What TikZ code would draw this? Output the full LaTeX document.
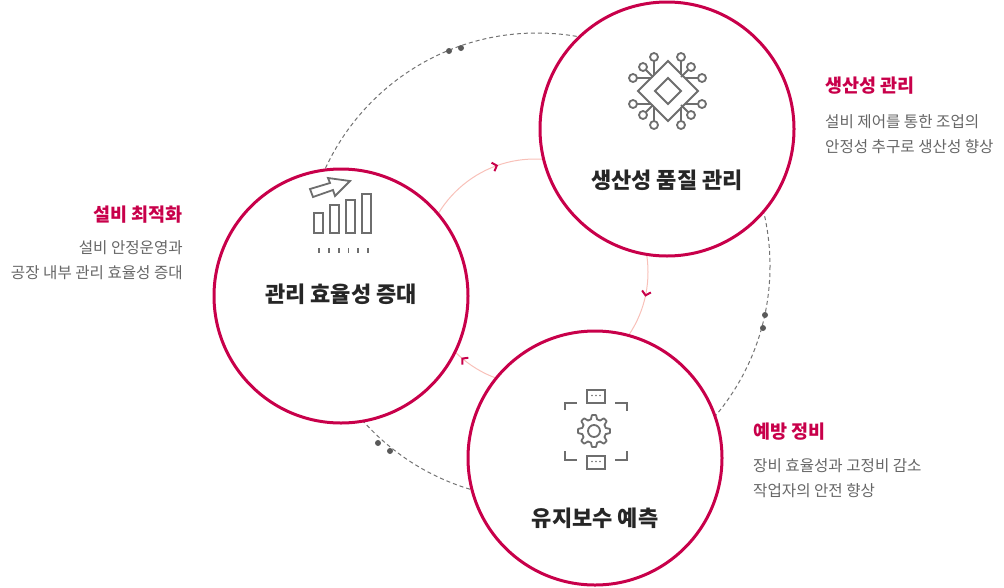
\documentclass[tikz,border=0pt]{standalone}
\usepackage{fontspec}
\setmainfont{Noto Sans CJK KR}
\usetikzlibrary{arrows.meta,decorations.markings}
\definecolor{crim}{HTML}{C8004A}
\definecolor{pinkl}{HTML}{F8C0B8}
\definecolor{icong}{HTML}{6E6E6E}
\definecolor{txtg}{HTML}{666666}
\tikzset{
  bigc/.style={draw=crim,line width=3,fill=white},
  ttl/.style={font=\bfseries\fontsize{22}{26}\selectfont,text=black!85},
  side/.style={font=\bfseries\fontsize{18.5}{22}\selectfont,text=crim},
  desc/.style={font=\fontsize{15.6}{25}\selectfont,text=txtg},
  ic/.style={draw=icong,line width=1.8},
  dot/.style={fill=black!65,circle,inner sep=0,minimum size=6},
  barb/.style={crim,line width=2},
}
\begin{document}
\begin{tikzpicture}[x=1pt,y=-1pt]
\useasboundingbox (0,0) rectangle (1004,587);
% outer dashed circle
\draw[black!55,line width=1,dash pattern=on 4pt off 3pt] (537,266) circle (233);
% inner pink cycle with arrows
\draw[pinkl,line width=1,postaction={decorate},decoration={markings,
  mark=at position 0.035 with {\arrow[barb]{Straight Barb[length=4pt,width=9pt]}},
  mark=at position 0.363 with {\arrow[barb]{Straight Barb[length=4pt,width=9pt]}},
  mark=at position 0.697 with {\arrow[barb]{Straight Barb[length=4pt,width=9pt]}}}]
  (535,272) circle (113);
% circles
\node[bigc,circle,minimum size=254,inner sep=0] (tr) at (667,129) {};
\node[bigc,circle,minimum size=254,inner sep=0] (lf) at (341,296) {};
\node[bigc,circle,minimum size=254,inner sep=0] (bt) at (595,458) {};
% dots
\node[dot] (d1) at (449,51) {}; \node[dot] (d2) at (461,48) {};
\node[dot] (d3) at (765,315) {}; \node[dot] (d4) at (763,328) {};
\node[dot] (d5) at (378,443) {}; \node[dot] (d6) at (390,451) {};
% titles
\node[ttl] (t1) at (667,180) {생산성 품질 관리};
\node[ttl] (t2) at (341,294) {관리 효율성 증대};
\node[ttl] (t3) at (595,518) {유지보수 예측};
% side texts
\node[side,anchor=west,inner sep=0] (s1) at (825,86) {생산성 관리};
\node[desc,anchor=north west,align=left,inner sep=0] (s1d) at (825,114) {설비 제어를 통한 조업의\\안정성 추구로 생산성 향상};
\node[side,anchor=east,inner sep=0] (s2) at (183,215) {설비 최적화};
\node[desc,anchor=north east,align=right,inner sep=0] (s2d) at (183,240) {설비 안정운영과\\공장 내부 관리 효율성 증대};
\node[side,anchor=west,inner sep=0] (s3) at (753,432) {예방 정비};
\node[desc,anchor=north west,align=left,inner sep=0] (s3d) at (753,458) {장비 효율성과 고정비 감소\\작업자의 안전 향상};
% chip icon
\draw[ic] (668,61) -- (698,91) -- (668,121) -- (638,91) -- cycle;
\draw[ic] (668,78) -- (681,91) -- (668,104) -- (655,91) -- cycle;
\foreach \px/\py/\qx/\qy in {654/61/654/75, 681/61/681/75, 654/121/654/107, 681/121/681/107,
  637/78/651/78, 699/78/685/78, 637/104/651/104, 699/104/685/104,
  646/70/653/77, 688/70/681/77, 646/112/653/105, 688/112/681/105}
  \draw[ic] (\px,\py) -- (\qx,\qy);
\foreach \px/\py in {654/57,681/57,654/125,681/125,633/78,702/78,633/104,702/104,643/67,691/67,643/115,691/115}
  \draw[ic,fill=white] (\px,\py) circle (4);
% chart icon
\foreach \xa/\ya in {314/213,330/205,346/200,362/194}
  \draw[ic] (\xa,\ya) rectangle (\xa+9,233);
\foreach \i in {0,...,5} \draw[ic] (319+\i*9.8,248) -- ++(0,5);
\draw[ic,line join=miter] (310,189) -- (313,197) -- (333,190) -- (335,196) -- (350,181) -- (328,178) -- (330,183) -- cycle;
% gear icon
\draw[ic] (587,390) rectangle (605,403);
\draw[ic] (587,456) rectangle (605,469);
\foreach \i in {0,1,2} { \fill[icong] (592+\i*4,395.5) circle (0.9); \fill[icong] (592+\i*4,461.5) circle (0.9); }
\draw[ic] (565,410) -- (565,403) -- (577,403);
\draw[ic] (615,403) -- (627,403) -- (627,411);
\draw[ic] (565,451) -- (565,460) -- (577,460);
\draw[ic] (615,460) -- (627,460) -- (627,451);
\draw[ic,line join=round] plot[samples at={0,7.5,...,352.5}] (
  {594+ ( mod(\x+11.25,45)<22.5 ? 16 : 12 )*cos(\x)},
  {431+ ( mod(\x+11.25,45)<22.5 ? 16 : 12 )*sin(\x)}) -- cycle;
\draw[ic] (594,431) circle (6);
\end{tikzpicture}
\end{document}
